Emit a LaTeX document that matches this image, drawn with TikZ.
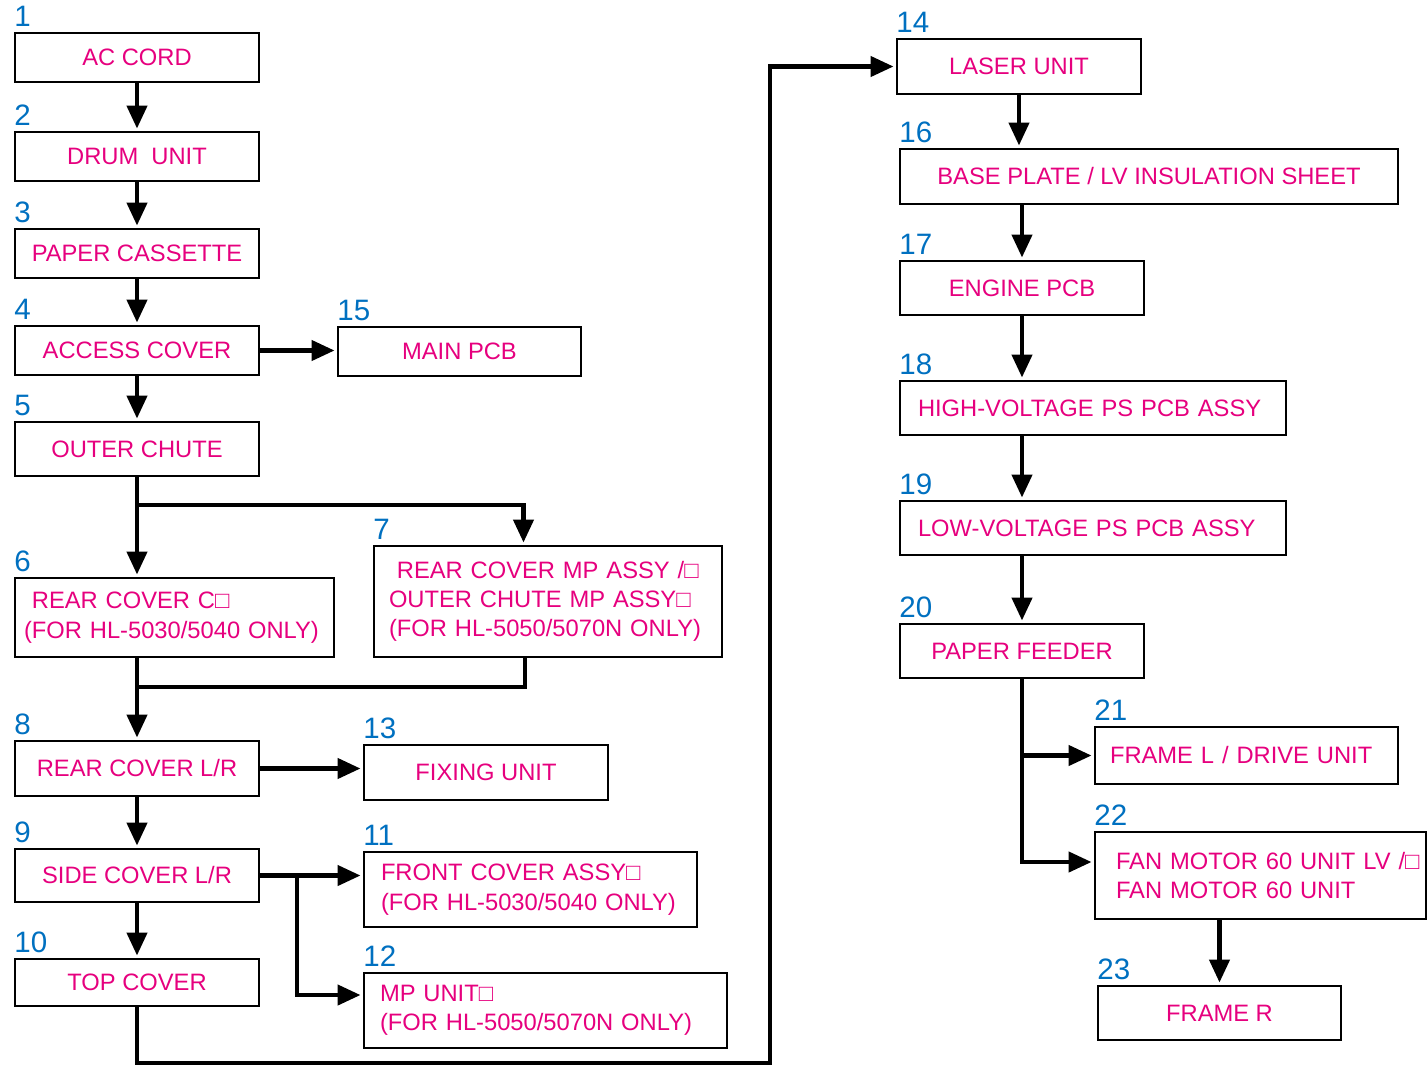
\documentclass[tikz,border=0pt]{standalone}
\usepackage{fontspec}
\setmainfont{Liberation Sans}
\usetikzlibrary{arrows.meta}

\definecolor{partpink}{RGB}{230,0,126}
\definecolor{stepblue}{RGB}{0,112,192}
\newcommand{\partfont}{\fontsize{13.5pt}{16.7pt}\selectfont}
\newcommand{\stepfont}{\fontsize{16.8pt}{20pt}\selectfont}

\begin{document}
\begin{tikzpicture}[
  box/.style={draw, line width=1.1pt, minimum width=4.88cm, minimum height=1.08cm, inner sep=0pt, align=left, text=partpink, font=\partfont},
  lbox/.style={box, inner xsep=#1, execute at begin node={\hyphenpenalty=10000\exhyphenpenalty=10000}},
  num/.style={anchor=base west, inner sep=0pt, text=stepblue, font=\stepfont},
  wire/.style={line width=2.5pt},
  arr/.style={wire, shorten >=0.05cm, -{Triangle[length=0.46cm, width=0.4cm]}}]
  \useasboundingbox (0,0) rectangle (28.54,-21.32);

  % left column
  \node[box, minimum height=0.98cm] (ac) at (2.74,-1.15) {AC CORD};
  \node[box, minimum height=0.98cm] (drum) at (2.74,-3.13) {DRUM\ \ UNIT};
  \node[box, minimum height=0.98cm] (cassette) at (2.74,-5.07) {PAPER CASSETTE};
  \node[box, minimum height=0.98cm] (access) at (2.74,-7.01) {ACCESS COVER};
  \node[box, minimum width=4.86cm, minimum height=0.98cm] (mainpcb) at (9.19,-7.03) {MAIN PCB};
  \node[box] (chute) at (2.74,-8.98) {OUTER CHUTE};
  \node[lbox=0.18cm, text width=6.02cm, minimum height=1.58cm] (rearc) at (3.49,-12.35) {\ REAR~COVER~C□\\(FOR~HL-5030/5040~ONLY)};
  \node[lbox=0.3cm, text width=6.36cm, minimum height=2.22cm] (rearmp) at (10.96,-12.03) {\ REAR~COVER~MP~ASSY~/□\\OUTER~CHUTE~MP~ASSY□\\(FOR~HL-5050/5070N~ONLY)};
  \node[box, minimum height=1.1cm] (rearlr) at (2.74,-15.37) {REAR COVER L/R};
  \node[box, minimum height=1.1cm] (fixing) at (9.72,-15.45) {FIXING UNIT};
  \node[box, minimum height=1.06cm] (side) at (2.74,-17.51) {SIDE COVER L/R};
  \node[lbox=0.34cm, text width=5.98cm, minimum height=1.5cm] (front) at (10.61,-17.79) {FRONT~COVER~ASSY□\\(FOR~HL-5030/5040~ONLY)};
  \node[box, minimum height=0.94cm] (topcov) at (2.74,-19.65) {TOP COVER};
  \node[lbox=0.32cm, text width=6.62cm, minimum height=1.5cm] (mpunit) at (10.91,-20.21) {MP~UNIT□\\(FOR~HL-5050/5070N~ONLY)};

  % right column
  \node[box, minimum height=1.1cm] (laser) at (20.38,-1.33) {LASER UNIT};
  \node[box, minimum width=9.96cm, minimum height=1.1cm] (base) at (22.98,-3.53) {BASE PLATE / LV INSULATION SHEET};
  \node[box] (engine) at (20.44,-5.76) {ENGINE PCB};
  \node[lbox=0.36cm, text width=7.0cm] (hvps) at (21.86,-8.16) {HIGH-VOLTAGE~PS~PCB~ASSY};
  \node[lbox=0.36cm, text width=7.0cm] (lvps) at (21.86,-10.56) {LOW-VOLTAGE~PS~PCB~ASSY};
  \node[box] (feeder) at (20.44,-13.02) {PAPER FEEDER};
  \node[lbox=0.3cm, text width=5.46cm, minimum height=1.14cm] (framel) at (24.93,-15.11) {FRAME~L~/~DRIVE~UNIT};
  \node[lbox=0.42cm, text width=5.78cm, minimum height=1.74cm] (fan) at (25.21,-17.51) {FAN~MOTOR~60~UNIT~LV~/□\\FAN~MOTOR~60~UNIT};
  \node[box, minimum width=4.86cm] (framer) at (24.39,-20.26) {FRAME R};

  % step numbers
  \node[num] (n1) at ([yshift=0.12cm]ac.north west) {1};
  \node[num] (n2) at ([yshift=0.12cm]drum.north west) {2};
  \node[num] (n3) at ([yshift=0.12cm]cassette.north west) {3};
  \node[num] (n4) at ([yshift=0.12cm]access.north west) {4};
  \node[num] (n5) at ([yshift=0.12cm]chute.north west) {5};
  \node[num] (n6) at ([yshift=0.12cm]rearc.north west) {6};
  \node[num] (n7) at ([yshift=0.12cm]rearmp.north west) {7};
  \node[num] (n8) at ([yshift=0.12cm]rearlr.north west) {8};
  \node[num] (n9) at ([yshift=0.12cm]side.north west) {9};
  \node[num] (n10) at ([yshift=0.12cm]topcov.north west) {10};
  \node[num] (n11) at ([yshift=0.12cm]front.north west) {11};
  \node[num] (n12) at ([yshift=0.12cm]mpunit.north west) {12};
  \node[num] (n13) at ([yshift=0.12cm]fixing.north west) {13};
  \node[num] (n14) at ([yshift=0.12cm]laser.north west) {14};
  \node[num] (n15) at ([yshift=0.12cm]mainpcb.north west) {15};
  \node[num] (n16) at ([yshift=0.12cm]base.north west) {16};
  \node[num] (n17) at ([yshift=0.12cm]engine.north west) {17};
  \node[num] (n18) at ([yshift=0.12cm]hvps.north west) {18};
  \node[num] (n19) at ([yshift=0.12cm]lvps.north west) {19};
  \node[num] (n20) at ([yshift=0.12cm]feeder.north west) {20};
  \node[num] (n21) at ([yshift=0.12cm]framel.north west) {21};
  \node[num] (n22) at ([yshift=0.12cm]fan.north west) {22};
  \node[num] (n23) at ([yshift=0.12cm]framer.north west) {23};

  % connectors
  \coordinate (split5) at (2.74,-10.1);
  \coordinate (join8) at (2.74,-13.74);
  \coordinate (split9) at (5.94,-17.51);
  \coordinate (turn10) at (15.4,-21.26);

  \draw[arr] (ac) -- (drum);
  \draw[arr] (drum) -- (cassette);
  \draw[arr] (cassette) -- (access);
  \draw[arr] (access.east) -- (access.east -| mainpcb.west);
  \draw[arr] (access) -- (chute);
  \draw[arr] (chute.south) -- (chute.south |- rearc.north);
  \draw[arr] (split5) -| ([xshift=-0.49cm]rearmp.north);
  \draw[wire] (chute.south |- rearc.south) -- (join8);
  \draw[wire] ([xshift=-0.46cm]rearmp.south) |- (join8);
  \draw[arr] (join8) -- (rearlr);
  \draw[arr] (rearlr.east) -- (rearlr.east -| fixing.west);
  \draw[arr] (rearlr) -- (side);
  \draw[arr] (side.east) -- (side.east -| front.west);
  \draw[arr] (split9) |- ([yshift=0.31cm]mpunit.west);
  \draw[arr] (side) -- (topcov);
  \draw[arr] (topcov.south) |- (turn10) |- (laser.west);
  \draw[arr] (laser) -- (laser |- base.north);
  \draw[arr] (base.south -| engine) -- (engine);
  \draw[arr] (engine) -- (engine |- hvps.north);
  \draw[arr] (hvps.south -| feeder) -- (lvps.north -| feeder);
  \draw[arr] (lvps.south -| feeder) -- (feeder);
  \draw[arr] (feeder.south |- framel.west) -- (framel.west);
  \draw[arr] (feeder.south) |- ([yshift=0.27cm]fan.west);
  \draw[arr] (fan.south -| framer) -- (framer);
\end{tikzpicture}
\end{document}
